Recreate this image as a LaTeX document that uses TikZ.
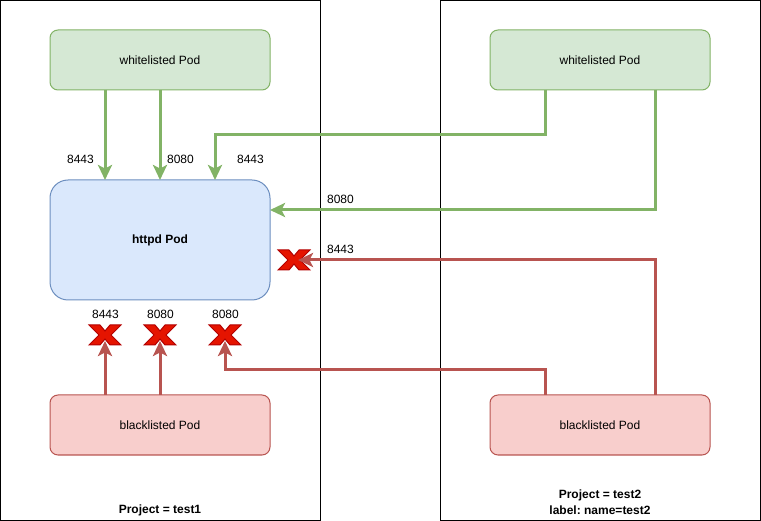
\documentclass[tikz,border=0pt]{standalone}
\usepackage{fontspec}
\setmainfont{Liberation Sans}
\usetikzlibrary{arrows.meta}
\frenchspacing
\definecolor{gfill}{HTML}{D5E8D4}
\definecolor{gline}{HTML}{82B366}
\definecolor{bfill}{HTML}{DAE8FC}
\definecolor{bline}{HTML}{6C8EBF}
\definecolor{rfill}{HTML}{F8CECC}
\definecolor{rline}{HTML}{B85450}
\definecolor{xfill}{HTML}{E51400}
\definecolor{xline}{HTML}{B20000}
\tikzset{
  pod/.style={rectangle, rounded corners=8pt, minimum width=220pt, minimum height=60pt, inner sep=0pt, outer sep=0pt, line width=1pt, font=\fontsize{12}{14}\selectfont},
  wpod/.style={pod, fill=gfill, draw=gline},
  bpod/.style={pod, fill=rfill, draw=rline},
  hpod/.style={pod, rounded corners=18pt, minimum height=120pt, fill=bfill, draw=bline, font=\fontsize{12}{14}\selectfont\bfseries},
  container/.style={draw=black, line width=1pt},
  ctitle/.style={font=\fontsize{12}{14}\selectfont\bfseries, inner sep=0pt},
  port/.style={font=\fontsize{12}{14}\selectfont, inner sep=0pt},
  garrow/.style={draw=gline, line width=3pt, -{Stealth[length=15pt, width=14pt, inset=3.5pt]}},
  rarrow/.style={draw=rline, line width=3pt, -{Stealth[length=15pt, width=14pt, inset=3.5pt]}},
  redx/.pic={\draw[fill=xfill, draw=xline, line width=1pt, line join=miter]
     (-16,-10) -- (-5,-10) -- (0,-4) -- (5,-10) -- (16,-10) -- (6,0) -- (16,10) -- (5,10) -- (0,4) -- (-5,10) -- (-16,10) -- (-6,0) -- cycle;}
}
\begin{document}
\begin{tikzpicture}[x=1pt, y=-1pt]
\useasboundingbox (0,0) rectangle (761,521);
% containers
\draw[container] (0.5,0.5) rectangle (320.5,520.5);
\draw[container] (440.5,0.5) rectangle (760.5,520.5);
\node[ctitle] (t1) at (160,510) {Project = test1};
\node[ctitle] (t2a) at (600,495) {Project = test2};
\node[ctitle] (t2b) at (600,510) {label: name=test2};
% pods
\node[wpod] (wl1) at (160,60) {whitelisted Pod};
\node[wpod] (wl2) at (600,60) {whitelisted Pod};
\node[hpod] (httpd) at (160,240) {httpd Pod};
\node[bpod] (bl1) at (160,425) {blacklisted Pod};
\node[bpod] (bl2) at (600,425) {blacklisted Pod};
% X marks
\pic at (105,335) {redx};
\pic at (160,335) {redx};
\pic at (225,335) {redx};
\pic at (294,260) {redx};
\coordinate (xa) at (105,341);
\coordinate (xb) at (160,341);
\coordinate (xc) at (225,341);
\coordinate (xd) at (298,260);
% green arrows
\draw[garrow] ([xshift=-55pt]wl1.south) -- ([xshift=-55pt]httpd.north);
\draw[garrow] (wl1.south) -- (httpd.north);
\draw[garrow] ([xshift=-55pt]wl2.south) -- ++(0,45) -| ([xshift=55pt]httpd.north);
\draw[garrow] ([xshift=55pt]wl2.south) |- ([yshift=30pt]httpd.east);
% red arrows
\draw[rarrow] ([xshift=-55pt]bl1.north) -- (xa);
\draw[rarrow] (bl1.north) -- (xb);
\draw[rarrow] ([xshift=-55pt]bl2.north) -- ++(0,-25) -| (xc);
\draw[rarrow] ([xshift=55pt]bl2.north) |- (xd);
% port labels
\node[port] (p1) at (80.5,159) {8443};
\node[port] (p2) at (180.5,159) {8080};
\node[port] (p3) at (250.5,159) {8443};
\node[port] (p4) at (340.5,199) {8080};
\node[port] (p5) at (340.5,249) {8443};
\node[port] (p6) at (105.5,314) {8443};
\node[port] (p7) at (160.5,314) {8080};
\node[port] (p8) at (225.5,314) {8080};
\end{tikzpicture}
\end{document}
